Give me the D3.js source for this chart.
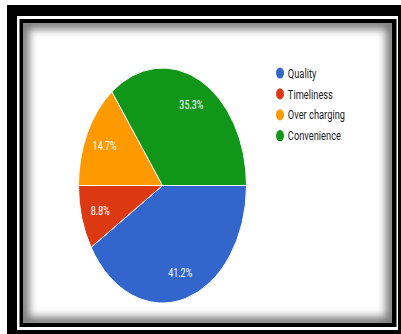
<!DOCTYPE html>
<html><head><meta charset="utf-8">
<script src="https://cdn.jsdelivr.net/npm/d3@7"></script>
<style>html,body{margin:0;padding:0;background:#fff;}svg{display:block;}</style>
</head><body>
<svg id="c" width="401" height="334"></svg>
<script>
const categories = ["Quality", "Timeliness", "Over charging", "Convenience"];
const values = [14, 3, 5, 12];
const colors = ["#3366cc", "#dc3912", "#ff9900", "#109618"];

const svg = d3.select("#c");
const defs = svg.append("defs");
const f = defs.append("filter").attr("id", "blur").attr("x", "-10%").attr("y", "-10%").attr("width", "120%").attr("height", "120%");
f.append("feGaussianBlur").attr("stdDeviation", 4);
defs.append("clipPath").attr("id", "panel").append("rect")
  .attr("x", 23).attr("y", 23).attr("width", 369).attr("height", 300);

// frame
svg.append("rect").attr("width", 401).attr("height", 334).attr("fill", "#fff");
svg.append("rect").attr("x", 7).attr("y", 5).attr("width", 394).attr("height", 329).attr("fill", "#000");
svg.append("rect").attr("x", 17).attr("y", 16).attr("width", 381).attr("height", 314).attr("fill", "#fff");
svg.append("rect").attr("x", 19.5).attr("y", 19).attr("width", 377).attr("height", 308).attr("fill", "#000");
svg.append("rect").attr("x", 23).attr("y", 23).attr("width", 369).attr("height", 300).attr("fill", "#fff");
svg.append("g").attr("clip-path", "url(#panel)").append("rect")
  .attr("x", 23).attr("y", 23).attr("width", 369).attr("height", 300)
  .attr("fill", "none").attr("stroke", "#777").attr("stroke-width", 12).attr("filter", "url(#blur)");

// pie (horizontally squeezed like the reference)
const sx = 0.715, R = 117.5, cx = 162.5, cy = 185.5;
const total = d3.sum(values);
const pie = d3.pie().sort(null).value(d => d)
  .startAngle(Math.PI / 2).endAngle(Math.PI / 2 + 2 * Math.PI);
const arcs = pie(values);
const arc = d3.arc().innerRadius(0).outerRadius(R);
const labelArc = d3.arc().innerRadius(R * 0.77).outerRadius(R * 0.77);
const g = svg.append("g").attr("transform", `translate(${cx},${cy}) scale(${sx},1)`);
g.selectAll("path").data(arcs).join("path")
  .attr("d", arc)
  .attr("fill", (d, i) => colors[i])
  .attr("stroke", "#fff").attr("stroke-width", 1)
  .attr("vector-effect", "non-scaling-stroke");
const fmt = d3.format(".1%");
g.selectAll("text").data(arcs).join("text")
  .attr("transform", d => `translate(${labelArc.centroid(d)})`)
  .attr("text-anchor", "middle").attr("dy", "0.35em")
  .attr("font-family", "Roboto, Arial, sans-serif").attr("font-size", 12.5)
  .attr("fill", "#fff")
  .text(d => fmt(d.value / total));

// legend
const lg = svg.append("g").attr("transform", `translate(280,73) scale(${sx},1)`);
const item = lg.selectAll("g").data(categories).join("g")
  .attr("transform", (d, i) => `translate(0,${i * 20.9})`);
item.append("circle").attr("r", 5.6).attr("fill", (d, i) => colors[i]);
item.append("text").attr("x", 11).attr("dy", "0.36em")
  .attr("font-family", "Roboto, Arial, sans-serif").attr("font-size", 13)
  .attr("fill", "#222").text(d => d);
</script>
</body></html>
